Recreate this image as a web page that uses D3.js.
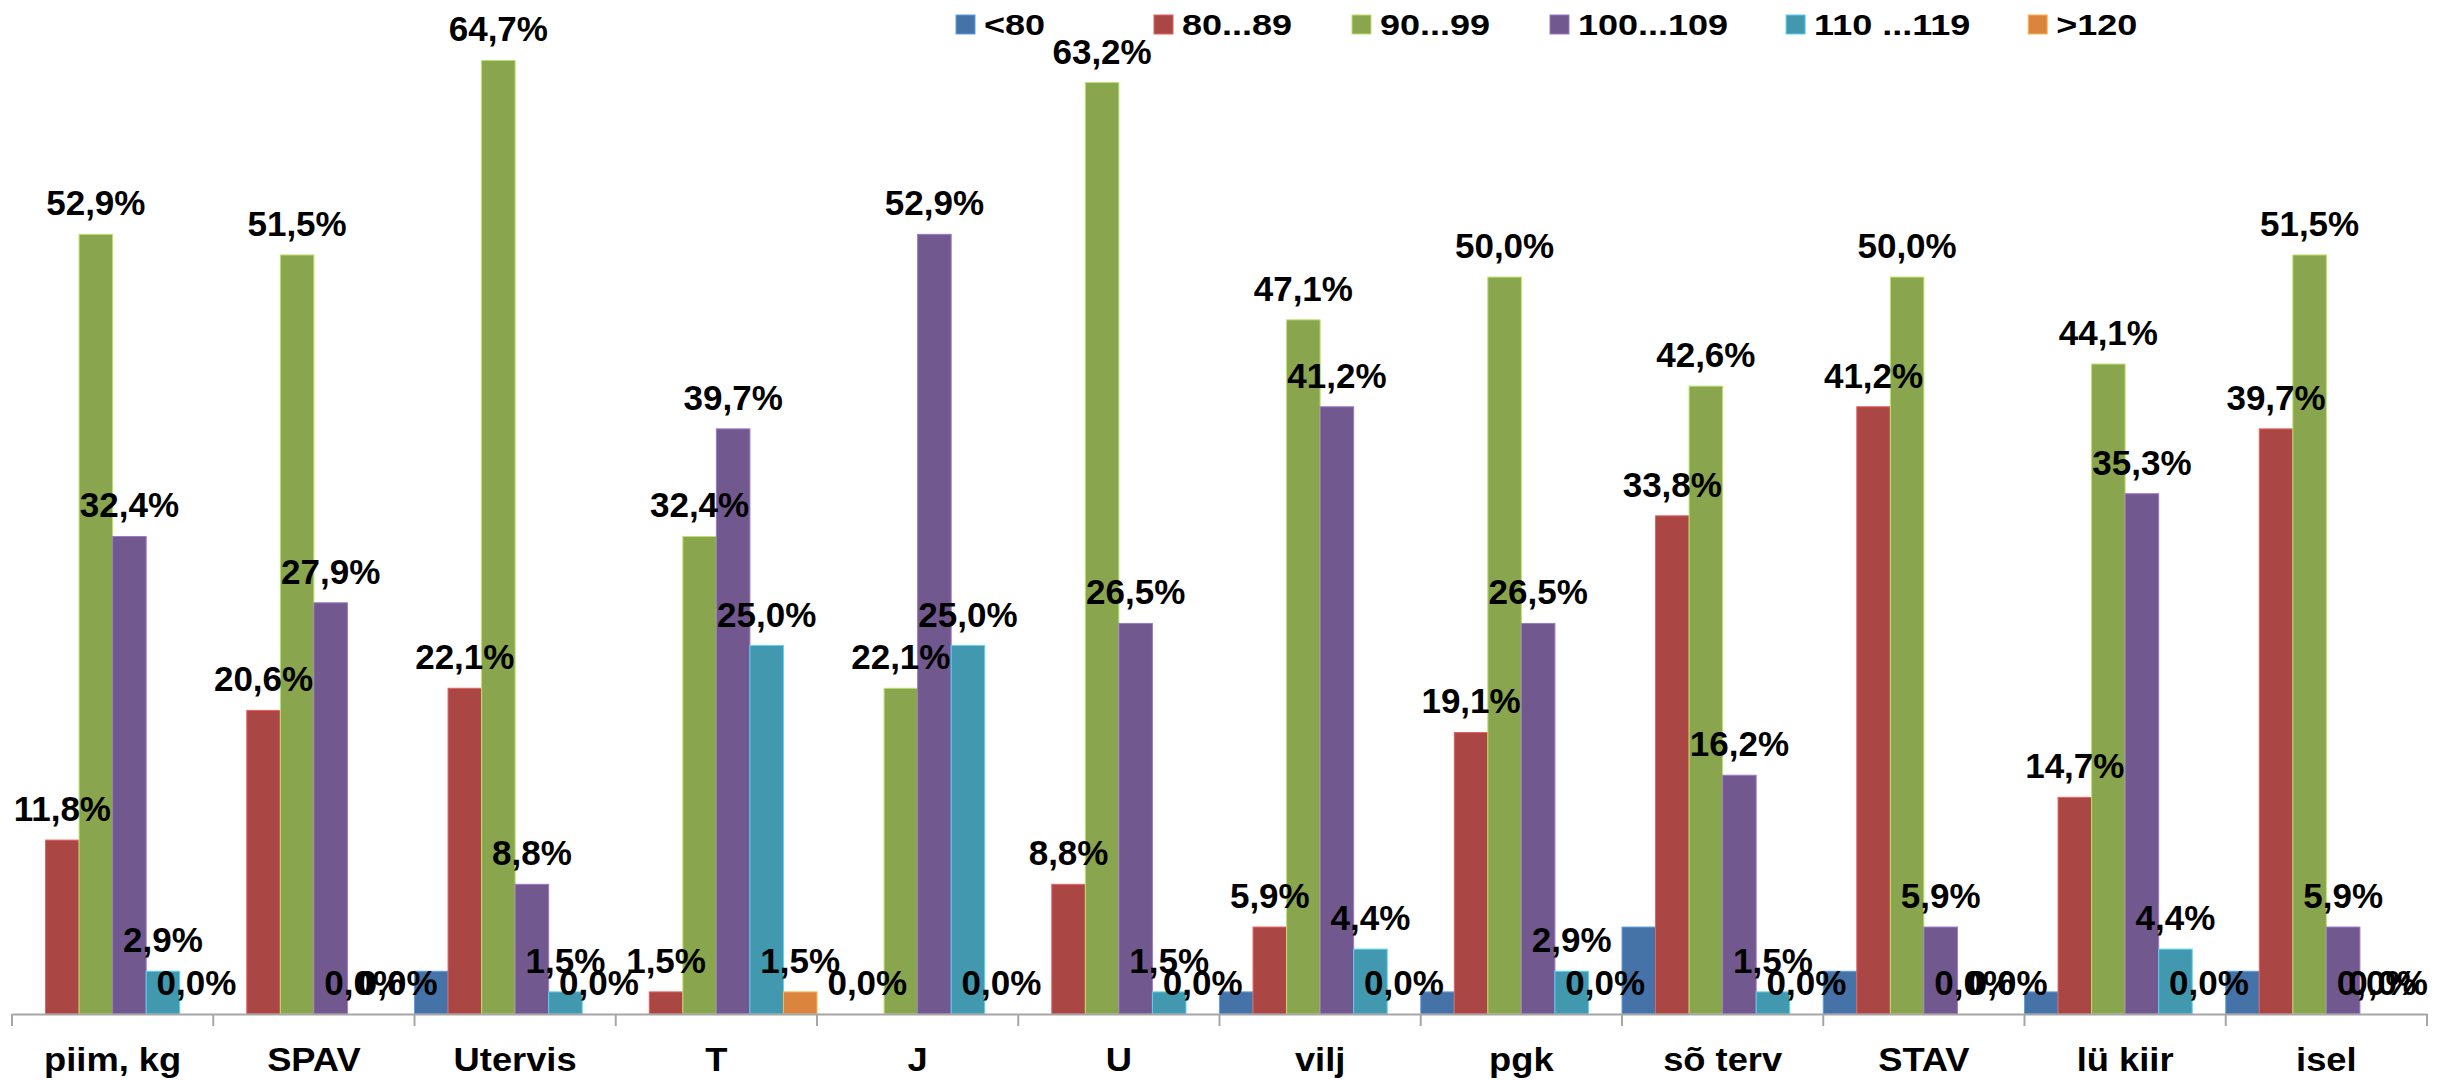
<!DOCTYPE html>
<html>
<head>
<meta charset="utf-8">
<script src="https://cdn.jsdelivr.net/npm/d3@7"></script>
<style>
html, body { margin: 0; padding: 0; background: #fff; }
svg { display: block; font-family: "Liberation Sans", Arial, sans-serif; font-weight: bold; }
</style>
</head>
<body>
<svg id="chart" width="2445" height="1080"></svg>
<script>
// categories and series (percent of animals per class)
var categories = ["piim, kg", "SPAV", "Utervis", "T", "J", "U", "vilj", "pgk", "sõ terv", "STAV", "lü kiir", "isel"];
var seriesNames = ["<80", "80...89", "90...99", "100...109", "110 ...119", ">120"];
var seriesColors = ["#4572A7", "#AA4643", "#89A54E", "#71588F", "#4198AF", "#DB843D"];
var withLabels = [false, true, true, true, true, true];

var under80 = [0, 0, 2.9, 0, 0, 0, 1.5, 1.5, 5.9, 2.9, 1.5, 2.9];
var from80 = [11.8, 20.6, 22.1, 1.5, 0, 8.8, 5.9, 19.1, 33.8, 41.2, 14.7, 39.7];
var from90 = [52.9, 51.5, 64.7, 32.4, 22.1, 63.2, 47.1, 50.0, 42.6, 50.0, 44.1, 51.5];
var from100 = [32.4, 27.9, 8.8, 39.7, 52.9, 26.5, 41.2, 26.5, 16.2, 5.9, 35.3, 5.9];
var from110 = [2.9, 0, 1.5, 25.0, 25.0, 1.5, 4.4, 2.9, 1.5, 0, 4.4, 0];
var over120 = [0, 0, 0, 1.5, 0, 0, 0, 0, 0, 0, 0, 0];

var seriesValues = [under80, from80, from90, from100, from110, over120];

var W = 2445, H = 1080,
    left = 12, right = 2427,
    baseY = 1014, plotTop = 56;

var svg = d3.select("#chart");

var x = d3.scaleBand().domain(categories).range([left, right]).padding(0);
var xs = d3.scaleBand().domain(d3.range(seriesNames.length)).range([0, x.bandwidth()]).padding(0);
var y = d3.scaleLinear().domain([0, 65]).range([baseY, plotTop]);

var fmt = function (v) { return d3.format(".1f")(v).replace(".", ",") + "%"; };

// bars
var groups = svg.append("g").selectAll("g")
    .data(categories)
    .enter().append("g")
    .attr("transform", function (d) { return "translate(" + x(d) + ",0)"; });

groups.selectAll("rect")
    .data(function (d, i) {
        return seriesValues.map(function (vals, s) { return {s: s, v: vals[i]}; });
    })
    .enter().append("rect")
    .filter(function (d) { return d.v > 0; })
    .attr("x", function (d) { return xs(d.s); })
    .attr("width", xs.bandwidth())
    .attr("y", function (d) { return y(d.v); })
    .attr("height", function (d) { return baseY - y(d.v); })
    .attr("fill", function (d) { return seriesColors[d.s]; })
    .attr("stroke", function (d) { return d3.color(seriesColors[d.s]).brighter(0.9); })
    .attr("stroke-width", 1);

// axis
var axis = svg.append("g")
    .attr("transform", "translate(0," + baseY + ")")
    .call(d3.axisBottom(x).tickSize(0).tickPadding(34));
axis.select(".domain").attr("stroke", "#a6a6a6").attr("stroke-width", 2);
axis.selectAll(".tick text")
    .attr("fill", "#000")
    .attr("font-size", 33)
    .attr("font-weight", "bold")
    .attr("font-family", "Liberation Sans, Arial, sans-serif")
    .attr("dy", "0.71em")
    .attr("transform", "scale(1.1,1)")
    .attr("x", 0);

// boundary ticks
var bounds = categories.map(function (c) { return x(c); }).concat([right]);
svg.append("g").selectAll("line")
    .data(bounds)
    .enter().append("line")
    .attr("x1", function (d) { return d; })
    .attr("x2", function (d) { return d; })
    .attr("y1", baseY)
    .attr("y2", baseY + 12)
    .attr("stroke", "#a6a6a6")
    .attr("stroke-width", 2);

// data labels
var labels = [];
categories.forEach(function (c, i) {
    seriesValues.forEach(function (vals, s) {
        if (withLabels[s]) labels.push({c: c, s: s, v: vals[i]});
    });
});

svg.append("g").selectAll("text")
    .data(labels)
    .enter().append("text")
    .attr("font-size", 35)
    .attr("fill", "#000")
    .attr("text-anchor", "middle")
    .text(function (d) { return fmt(d.v); })
    .each(function (d) {
        var w = this.getComputedTextLength();
        var cx = x(d.c) + xs(d.s) + xs.bandwidth() / 2;
        if (cx + w / 2 > right + 1) cx = right + 1 - w / 2;
        d3.select(this).attr("x", cx).attr("y", y(d.v) - 19);
    });

// legend
var legend = svg.append("g");
var lx = 956;
seriesNames.forEach(function (name, s) {
    var item = legend.append("g").attr("transform", "translate(" + lx + ",0)");
    item.append("rect")
        .attr("x", 0).attr("y", 15)
        .attr("width", 19).attr("height", 19)
        .attr("fill", seriesColors[s])
        .attr("stroke", d3.color(seriesColors[s]).brighter(0.9))
        .attr("stroke-width", 1);
    var t = item.append("text")
        .attr("x", 0).attr("y", 35)
        .attr("font-size", 30)
        .attr("fill", "#000")
        .attr("transform", "translate(28,0) scale(1.2,1)")
        .text(name);
    var tw = t.node().getComputedTextLength() * 1.2;
    lx += Math.max(198, 28 + tw + 58);
});
</script>
</body>
</html>
